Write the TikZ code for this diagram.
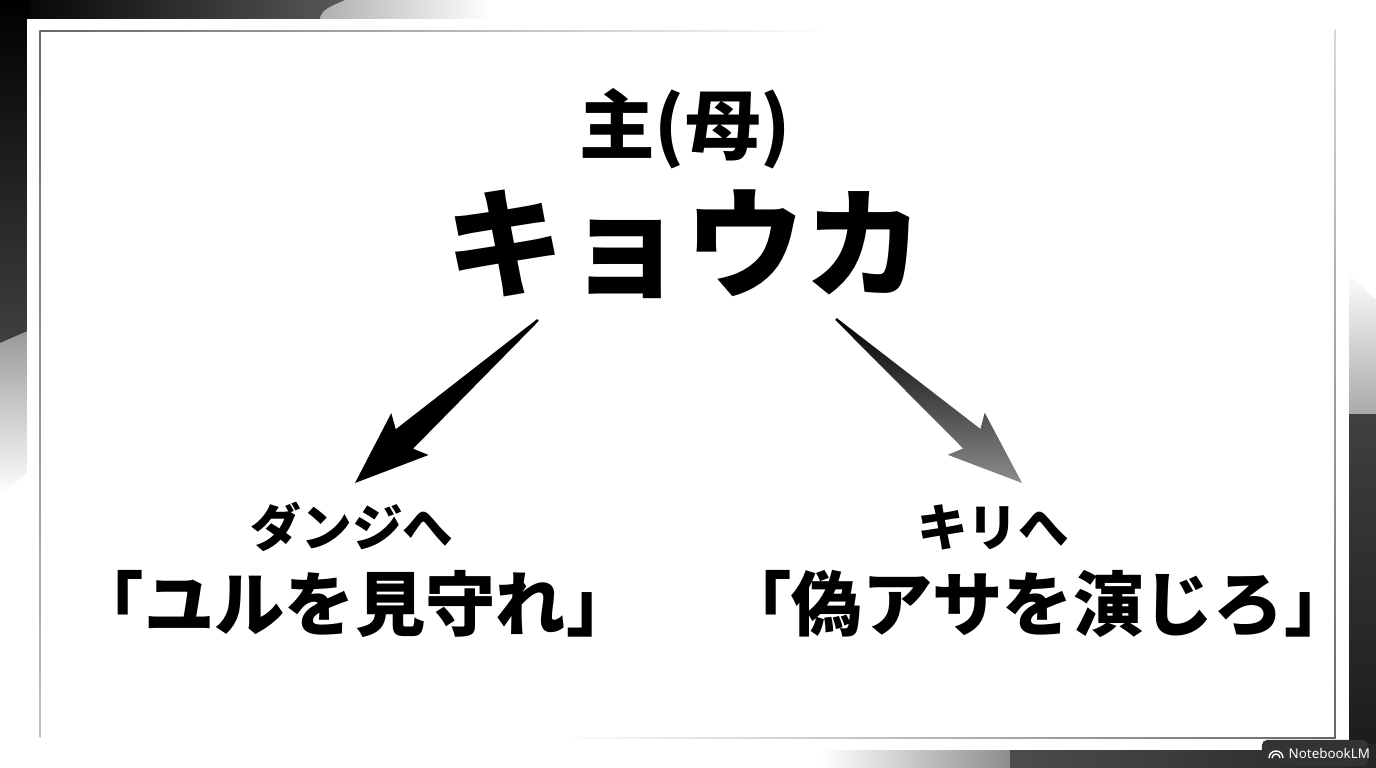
\documentclass[tikz,border=0pt]{standalone}
\usepackage{fontspec}
\newfontfamily\jpfont{Noto Sans CJK JP}
\newfontfamily\badgefont{Noto Sans}
\usetikzlibrary{calc}
\tikzstyle{who} = [inner sep=0pt, font={\jpfont\bfseries\fontsize{21.5}{25}\selectfont}]
\tikzstyle{hero} = [inner sep=0pt, font={\jpfont\bfseries\fontsize{34}{40}\selectfont}]
\tikzstyle{target} = [inner sep=0pt, font={\jpfont\bfseries\fontsize{14.4}{17}\selectfont}]
\tikzstyle{order} = [inner sep=0pt, font={\jpfont\bfseries\fontsize{20}{24}\selectfont}]
\tikzstyle{badge} = [fill=black!80, rounded corners=0.05cm, minimum width=1.06cm, minimum height=0.26cm]
% tapered brush arrow: #1 fill options, #2 tail, #3 tip
\newcommand{\inkarrow}[3]{
  \path[#1] ($(#2)!0.012cm!90:(#3)$) -- ($($(#2)!0.73!(#3)$)!0.13cm!90:(#3)$)
    -- ($($(#2)!0.70!(#3)$)!0.28cm!90:(#3)$) -- (#3)
    -- ($($(#2)!0.70!(#3)$)!0.28cm!-90:(#3)$) -- ($($(#2)!0.73!(#3)$)!0.13cm!-90:(#3)$)
    -- ($(#2)!0.012cm!-90:(#3)$) -- cycle;
}

\begin{document}
\begin{tikzpicture}[x=0.01cm, y=-0.01cm]
    \useasboundingbox (0,0) rectangle (1376,768);
    \fill[white] (0,0) rectangle (1376,768);
    % ink wash, top left
    \shade[left color=black!35, right color=white] (300,0) rectangle (490,24);
    \shade[left color=black, right color=black!65] (0,0) -- (345,0) .. controls (322,10) .. (318,24) -- (0,24) -- cycle;
    \shade[top color=black, bottom color=black!75] (0,0) rectangle (30,345);
    \shade[top color=black!40, bottom color=white] (0,343) -- (30,330) -- (30,470) -- (0,495) -- cycle;
    % ink wash, bottom right
    \shade[top color=white, bottom color=black!35] (1345,270) -- (1376,300) -- (1376,420) -- (1345,418) -- cycle;
    \shade[top color=black!75, bottom color=black!90] (1345,415) rectangle (1376,768);
    \shade[left color=white, right color=black!45] (820,745) rectangle (1012,768);
    \shade[left color=black!70, right color=black!85] (1010,745) rectangle (1376,768);
    % page and thin frame
    \fill[white] (27,19) rectangle (1349,750);
    \shade[left color=black!60, right color=white] (39.5,30.5) rectangle (830,31.5);
    \shade[top color=black!15, bottom color=black!60] (1334.5,30) rectangle (1335.5,738.5);
    \shade[left color=white, right color=black!60] (560,737.5) rectangle (1335.5,738.5);
    \shade[top color=black!60, bottom color=black!25] (39.5,30.5) rectangle (40.5,738);

    \node[who](role) at (685,129){主(母)};
    \node[hero](kyouka) at (685,244){キョウカ};
    \node[target](dansi) at (352,527){ダンジへ};
    \node[order](yul) at (355,604){「ユルを見守れ」};
    \node[target](kiri) at (993,527){キリへ};
    \node[order](asa) at (1038,604){「偽アサを演じろ」};

    \coordinate (lt) at (538,320);
    \coordinate (lh) at (355,483);
    \coordinate (rt) at (836,319);
    \coordinate (rh) at (1022,483);
    \inkarrow{fill=black}{lt}{lh}
    \inkarrow{top color=black, bottom color=black!45, shading angle=0}{rt}{rh}

    \node[badge](mark) at (1315,753){};
    \node[anchor=west, inner sep=0pt, text=white, font={\badgefont\fontsize{3.8}{4.5}\selectfont}](marktext) at (1288,753){NotebookLM};
    \draw[white, line width=0.4pt] (1269,758) arc[start angle=180, end angle=360, radius=7];
    \draw[white, line width=0.4pt] (1272,758) arc[start angle=180, end angle=360, radius=4];
  \end{tikzpicture}
\end{document}
